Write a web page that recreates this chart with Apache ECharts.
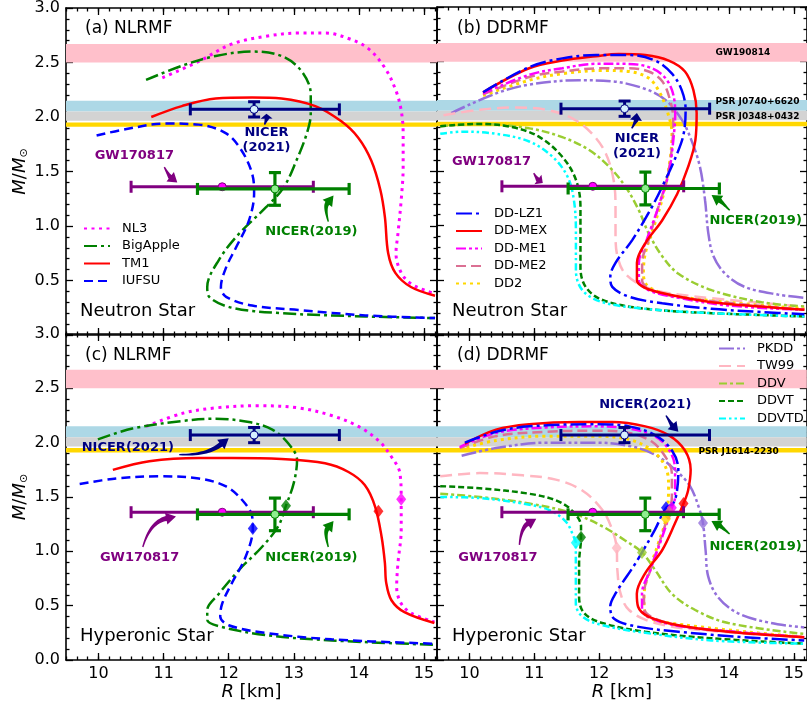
<!DOCTYPE html>
<html><head><meta charset="utf-8">
<script src="https://cdn.jsdelivr.net/npm/echarts@6/dist/echarts.min.js"></script>
<style>html,body{margin:0;padding:0;background:#fff}#c{width:807px;height:709px}</style>
</head><body><div id="c"></div>
<script>
// ================= DATA =================
const X_MAJOR = [10, 11, 12, 13, 14, 15];
const X_MINOR = []; for (let k = 0; k <= 34; k++) X_MINOR.push(9.5 + k / 6);

// (a) NLRMF neutron star  [R km, M/Msun]
const A_NL3 = [[10.98,2.36],[11.54,2.51],[12.05,2.67],[12.57,2.74],[13.07,2.77],[13.49,2.77],[13.84,2.72],[14.14,2.63],[14.40,2.45],[14.57,2.24],[14.65,2.06],[14.68,1.85],[14.68,1.54],[14.65,1.24],[14.60,0.93],[14.57,0.75],[14.65,0.57],[14.80,0.47],[15.01,0.41],[15.17,0.38]];
const A_BIGAPPLE = [[10.73,2.34],[11.28,2.47],[11.80,2.56],[12.36,2.60],[12.81,2.56],[13.12,2.42],[13.26,2.21],[13.26,2.03],[13.20,1.85],[13.04,1.60],[12.84,1.35],[12.57,1.17],[12.16,0.93],[11.85,0.69],[11.67,0.44],[11.70,0.35],[12.05,0.25],[12.81,0.20],[14.10,0.17],[15.17,0.155]];
const A_TM1 = [[10.81,2.00],[11.28,2.10],[11.80,2.17],[12.36,2.18],[12.81,2.17],[13.33,2.10],[13.73,1.96],[13.99,1.81],[14.19,1.60],[14.33,1.33],[14.40,1.08],[14.45,0.75],[14.56,0.57],[14.80,0.44],[15.17,0.36]];
const A_IUFSU = [[9.97,1.83],[10.43,1.89],[11.04,1.94],[11.54,1.93],[11.96,1.85],[12.20,1.69],[12.36,1.48],[12.39,1.30],[12.31,1.05],[12.11,0.80],[11.96,0.62],[11.88,0.44],[11.96,0.35],[12.36,0.27],[13.07,0.23],[14.10,0.18],[15.17,0.155]];

// (b) DDRMF neutron star
const B_DDLZ1 = [[10.21,2.22],[10.92,2.45],[11.43,2.53],[11.95,2.56],[12.46,2.56],[12.86,2.51],[13.12,2.39],[13.27,2.24],[13.33,2.06],[13.30,1.84],[13.20,1.66],[13.02,1.42],[12.81,1.17],[12.51,0.87],[12.25,0.66],[12.17,0.53],[12.20,0.44],[12.46,0.35],[12.97,0.29],[13.73,0.24],[14.50,0.21],[15.16,0.19]];
const B_DDMEX = [[10.21,2.22],[10.92,2.44],[11.43,2.51],[11.95,2.55],[12.30,2.57],[12.71,2.56],[13.07,2.51],[13.32,2.41],[13.45,2.24],[13.50,2.03],[13.48,1.78],[13.37,1.54],[13.20,1.29],[12.97,1.05],[12.71,0.84],[12.58,0.66],[12.58,0.50],[12.71,0.43],[13.07,0.37],[13.73,0.30],[14.50,0.26],[15.16,0.23]];
const B_DDME1 = [[10.21,2.21],[10.92,2.38],[11.43,2.44],[11.95,2.48],[12.35,2.48],[12.71,2.46],[12.97,2.38],[13.12,2.24],[13.17,2.03],[13.14,1.78],[13.07,1.48],[12.91,1.17],[12.73,0.87],[12.61,0.66],[12.61,0.50],[12.76,0.41],[13.22,0.34],[13.99,0.27],[15.16,0.23]];
const B_DDME2 = [[10.21,2.20],[10.92,2.36],[11.43,2.41],[12.05,2.44],[12.46,2.44],[12.76,2.41],[12.97,2.32],[13.09,2.15],[13.14,1.97],[13.12,1.72],[13.04,1.42],[12.91,1.17],[12.76,0.87],[12.66,0.66],[12.66,0.50],[12.81,0.41],[13.30,0.34],[15.16,0.23]];
const B_DD2 = [[10.21,2.19],[10.92,2.33],[11.43,2.39],[12.05,2.42],[12.46,2.41],[12.76,2.35],[12.91,2.24],[13.04,2.06],[13.12,1.84],[13.09,1.60],[12.99,1.29],[12.84,0.99],[12.71,0.75],[12.68,0.56],[12.76,0.44],[13.22,0.35],[15.16,0.24]];
const B_PKDD = [[9.72,2.03],[10.41,2.21],[10.92,2.29],[11.69,2.33],[12.20,2.32],[12.71,2.25],[13.02,2.15],[13.27,1.97],[13.42,1.78],[13.55,1.54],[13.63,1.23],[13.68,0.93],[13.76,0.72],[13.94,0.56],[14.24,0.44],[14.75,0.37],[15.16,0.34]];
const B_TW99 = [[9.60,2.01],[10.16,2.06],[10.67,2.08],[11.18,2.06],[11.59,1.98],[11.89,1.84],[12.10,1.66],[12.22,1.42],[12.25,1.17],[12.25,0.93],[12.28,0.72],[12.40,0.56],[12.71,0.44],[13.22,0.37],[15.16,0.26]];
const B_DDV = [[9.55,1.91],[10.16,1.93],[10.92,1.89],[11.43,1.81],[11.85,1.69],[12.15,1.54],[12.40,1.36],[12.61,1.14],[12.76,0.93],[12.97,0.72],[13.22,0.56],[13.73,0.41],[14.50,0.30],[15.16,0.26]];
const B_DDVT = [[9.55,1.91],[10.16,1.93],[10.67,1.90],[11.08,1.81],[11.43,1.63],[11.64,1.42],[11.71,1.17],[11.71,0.93],[11.71,0.62],[11.79,0.44],[12.05,0.32],[12.71,0.24],[13.73,0.20],[15.16,0.17]];
const B_DDVTD = [[9.55,1.84],[9.90,1.86],[10.41,1.84],[10.92,1.77],[11.28,1.63],[11.51,1.45],[11.61,1.23],[11.64,0.93],[11.64,0.59],[11.74,0.41],[12.05,0.30],[12.71,0.24],[13.73,0.20],[15.16,0.17]];

// (c) NLRMF hyperonic star
const C_NL3 = [[10.73,2.15],[11.29,2.27],[11.80,2.32],[12.46,2.34],[13.07,2.32],[13.58,2.25],[13.99,2.15],[14.30,2.02],[14.50,1.87],[14.63,1.72],[14.65,1.48],[14.65,1.20],[14.60,0.89],[14.58,0.67],[14.65,0.52],[14.81,0.43],[15.16,0.35]];
const C_BIGAPPLE = [[9.99,2.03],[10.52,2.13],[11.29,2.20],[11.80,2.22],[12.31,2.19],[12.67,2.12],[12.92,1.99],[13.05,1.84],[13.00,1.63],[12.88,1.42],[12.76,1.23],[12.51,1.04],[12.16,0.83],[11.85,0.61],[11.67,0.46],[11.67,0.37],[11.85,0.31],[12.56,0.23],[13.58,0.18],[15.16,0.14]];
const C_TM1 = [[10.22,1.75],[10.78,1.83],[11.54,1.86],[12.05,1.86],[12.81,1.85],[13.48,1.81],[13.84,1.73],[14.09,1.61],[14.25,1.41],[14.35,1.13],[14.40,0.89],[14.42,0.71],[14.50,0.55],[14.70,0.44],[15.16,0.34]];
const C_IUFSU = [[9.71,1.62],[10.27,1.67],[10.93,1.69],[11.54,1.67],[11.95,1.60],[12.21,1.47],[12.36,1.32],[12.37,1.21],[12.26,0.95],[12.05,0.71],[11.90,0.52],[11.87,0.40],[12.00,0.32],[12.56,0.25],[13.58,0.19],[15.16,0.15]];
const C_ONSET_NAMES = ['NL3', 'TM1', 'BigApple', 'IUFSU'];
const C_ONSET = [[14.65,1.48],[14.30,1.37],[12.88,1.42],[12.37,1.21]];

// (d) DDRMF hyperonic star
const D_DDLZ1 = [[9.93,2.00],[10.41,2.10],[10.92,2.15],[11.95,2.17],[12.46,2.15],[12.86,2.07],[13.12,1.93],[13.22,1.75],[13.20,1.56],[13.14,1.44],[13.03,1.40],[12.86,1.20],[12.56,0.89],[12.25,0.61],[12.17,0.49],[12.23,0.38],[12.56,0.31],[13.22,0.26],[14.24,0.21],[15.16,0.18]];
const D_DDMEX = [[9.93,1.99],[10.41,2.12],[10.92,2.17],[11.69,2.19],[12.20,2.19],[12.71,2.15],[13.07,2.07],[13.32,1.93],[13.41,1.75],[13.37,1.56],[13.30,1.44],[13.17,1.26],[12.97,1.01],[12.71,0.80],[12.58,0.61],[12.60,0.49],[12.76,0.40],[13.22,0.32],[13.99,0.26],[15.16,0.21]];
const D_DDME1 = [[9.85,1.96],[10.41,2.09],[11.18,2.14],[11.95,2.15],[12.46,2.13],[12.86,2.06],[13.09,1.92],[13.17,1.75],[13.17,1.50],[13.12,1.40],[12.97,1.13],[12.79,0.83],[12.66,0.61],[12.66,0.46],[12.86,0.37],[13.37,0.30],[15.16,0.21]];
const D_DDME2 = [[9.85,1.95],[10.41,2.06],[11.18,2.10],[11.95,2.11],[12.46,2.09],[12.81,2.01],[13.02,1.87],[13.12,1.72],[13.12,1.50],[13.07,1.35],[12.94,1.10],[12.79,0.83],[12.69,0.61],[12.70,0.46],[12.91,0.37],[13.40,0.30],[15.16,0.21]];
const D_DD2 = [[9.85,1.94],[10.41,2.02],[11.18,2.06],[11.95,2.06],[12.46,2.03],[12.81,1.93],[13.02,1.78],[13.07,1.60],[13.03,1.30],[12.91,1.07],[12.76,0.80],[12.69,0.58],[12.71,0.43],[12.97,0.35],[15.16,0.21]];
const D_PKDD = [[9.88,1.88],[10.41,1.95],[11.18,2.00],[11.95,2.00],[12.46,1.97],[12.86,1.89],[13.17,1.75],[13.40,1.60],[13.55,1.38],[13.60,1.26],[13.64,1.01],[13.68,0.77],[13.83,0.58],[14.14,0.43],[14.65,0.34],[15.16,0.30]];
const D_TW99 = [[9.55,1.69],[10.16,1.72],[10.82,1.70],[11.33,1.66],[11.74,1.56],[12.05,1.38],[12.20,1.20],[12.27,1.03],[12.28,0.83],[12.33,0.61],[12.46,0.46],[12.81,0.35],[13.48,0.28],[15.16,0.21]];
const D_DDV = [[9.55,1.53],[10.16,1.50],[10.92,1.44],[11.59,1.35],[12.05,1.23],[12.40,1.10],[12.66,0.99],[12.86,0.83],[13.12,0.61],[13.48,0.46],[13.99,0.34],[15.16,0.24]];
const D_DDVT = [[9.55,1.60],[10.16,1.58],[10.92,1.53],[11.33,1.47],[11.59,1.37],[11.72,1.23],[11.72,1.13],[11.69,0.89],[11.69,0.58],[11.77,0.43],[12.05,0.34],[12.71,0.26],[13.73,0.20],[15.16,0.15]];
const D_DDVTD = [[9.55,1.50],[10.16,1.49],[10.82,1.44],[11.23,1.38],[11.49,1.27],[11.61,1.13],[11.64,1.08],[11.64,0.83],[11.64,0.52],[11.74,0.40],[12.05,0.32],[12.71,0.25],[13.73,0.18],[15.16,0.15]];
const D_ONSET_NAMES = ['DD-LZ1','DD-ME1','DD-MEX','DD-ME2','DD2','PKDD','TW99','DDV','DDVT','DDVTD'];
const D_ONSET = [[13.03,1.40],[13.12,1.40],[13.30,1.44],[13.08,1.36],[13.03,1.30],[13.60,1.26],[12.27,1.03],[12.66,0.99],[11.72,1.13],[11.64,1.08]];

// observational constraints
const BANDS = [[2.50,2.67],[2.05,2.15],[1.965,2.05],[1.91,1.95]];          // GW190814, J0740, J0348, J1614
const ERR_NICER2021 = [12.39, 2.07, 11.41, 13.70, 2.00, 2.14];           // R, M, Rlo, Rhi, Mlo, Mhi
const ERR_NICER2019 = [12.71, 1.34, 11.52, 13.85, 1.19, 1.49];
const ERR_GW170817 = [11.90, 1.36, 10.50, 13.30];

// annotation texts [R, M, text, colorKey]
const TEXT_A = [[12.58,1.785,'NICER\n(2021)','n'],[10.55,1.65,'GW170817','p'],[13.27,0.95,'NICER(2019)','g']];
const TEXT_B = [[12.58,1.73,'NICER\n(2021)','n'],[10.34,1.59,'GW170817','p'],[14.41,1.05,'NICER(2019)','g']];
const TEXT_C = [[10.45,1.95,'NICER(2021)','n'],[10.63,0.945,'GW170817','p'],[13.27,0.945,'NICER(2019)','g']];
const TEXT_D = [[12.71,2.35,'NICER(2021)','n'],[10.44,0.945,'GW170817','p'],[14.41,1.04,'NICER(2019)','g']];
// arrows [R1, M1, R2, M2, curvature, colorKey]
const ARROW_A = [[12.55,1.93,12.58,2.03,0.1,'n'],[11.01,1.54,11.21,1.40,0.1,'p'],[13.53,1.04,13.61,1.28,-0.25,'g']];
const ARROW_B = [[12.50,1.89,12.58,2.03,0.1,'n'],[10.99,1.48,11.13,1.39,0.1,'p'],[14.01,1.14,13.73,1.28,0.05,'g']];
const ARROW_C = [[11.24,1.89,12.0,2.04,0.18,'n'],[10.68,1.04,11.19,1.32,-0.3,'p'],[13.53,1.04,13.61,1.28,-0.25,'g']];
const ARROW_D = [[13.03,2.25,13.22,2.10,0.05,'n'],[10.77,1.06,11.03,1.30,-0.25,'p'],[14.01,1.16,13.73,1.28,0.05,'g']];
// band labels [R, M, text]
const BANDLABEL_B = [[13.79,2.585,'GW190814'],[13.79,2.13,'PSR J0740+6620'],[13.79,2.00,'PSR J0348+0432']];
const BANDLABEL_D = [[13.53,1.915,'PSR J1614-2230']];

// ================= STYLE =================
const FONT = '"DejaVu Sans", Verdana, sans-serif';
const BAND_COLORS = ['#ffc0cb', '#add8e6', '#d3d3d3', '#ffd700'];
const ANN_COLORS = {n: '#000080', p: '#800080', g: '#008000'};
const STYLE = {
  'NL3':      {color: '#ff00ff', type: [3, 4.5], width: 3},
  'BigApple': {color: '#008000', type: [13, 4, 3, 4], width: 2.5},
  'TM1':      {color: '#ff0000', type: 'solid', width: 2.5},
  'IUFSU':    {color: '#0000ff', type: [9, 5], width: 2.5},
  'DD-LZ1':   {color: '#0000ff', type: [16, 4, 3, 4], width: 2.5},
  'DD-MEX':   {color: '#ff0000', type: 'solid', width: 2.5},
  'DD-ME1':   {color: '#ff00ff', type: [10, 3, 3, 3, 3, 3], width: 2.5},
  'DD-ME2':   {color: '#db7093', type: [10, 5], width: 2.5},
  'DD2':      {color: '#ffd700', type: [3, 4], width: 3},
  'PKDD':     {color: '#9370db', type: [15, 3, 3, 3, 3, 3], width: 2.5},
  'TW99':     {color: '#ffb6c1', type: [12, 6], width: 2.5},
  'DDV':      {color: '#9acd32', type: [8, 3, 3, 3], width: 2.5},
  'DDVT':     {color: '#008000', type: [6, 3], width: 2.5},
  'DDVTD':    {color: '#00ffff', type: [7, 3, 2.5, 3, 2.5, 3], width: 2.5}
};

const PANELS = [
  {curves: [['NL3',A_NL3],['BigApple',A_BIGAPPLE],['TM1',A_TM1],['IUFSU',A_IUFSU]], texts: TEXT_A, arrows: ARROW_A, labels: []},
  {curves: [['PKDD',B_PKDD],['TW99',B_TW99],['DDV',B_DDV],['DDVT',B_DDVT],['DDVTD',B_DDVTD],['DD2',B_DD2],['DD-ME2',B_DDME2],['DD-ME1',B_DDME1],['DD-MEX',B_DDMEX],['DD-LZ1',B_DDLZ1]], texts: TEXT_B, arrows: ARROW_B, labels: BANDLABEL_B},
  {curves: [['NL3',C_NL3],['BigApple',C_BIGAPPLE],['TM1',C_TM1],['IUFSU',C_IUFSU]], texts: TEXT_C, arrows: ARROW_C, labels: [], onsetNames: C_ONSET_NAMES, onset: C_ONSET},
  {curves: [['PKDD',D_PKDD],['TW99',D_TW99],['DDV',D_DDV],['DDVT',D_DDVT],['DDVTD',D_DDVTD],['DD2',D_DD2],['DD-ME2',D_DDME2],['DD-ME1',D_DDME1],['DD-MEX',D_DDMEX],['DD-LZ1',D_DDLZ1]], texts: TEXT_D, arrows: ARROW_D, labels: BANDLABEL_D, onsetNames: D_ONSET_NAMES, onset: D_ONSET}
];

const GRIDS = [
  {left: 66, top: 7, width: 371, height: 328},
  {left: 437, top: 7, width: 371, height: 328},
  {left: 66, top: 334, width: 371, height: 326},
  {left: 437, top: 334, width: 371, height: 326}
];

// ================= AXES =================
const xAxes = [], yAxes = [];
const tickLine = {color: '#000', width: 1.3};
GRIDS.forEach((g, gi) => {
  const bottomRow = gi >= 2, leftCol = gi % 2 === 0;
  const base = {type: 'value', gridIndex: gi, min: 9.5, max: 15.2, splitLine: {show: false}};
  xAxes.push(Object.assign({}, base, {
    position: 'bottom',
    axisLine: {show: true, onZero: false, lineStyle: {color: '#000', width: 1.6}},
    axisTick: {show: true, inside: true, length: 7, customValues: X_MAJOR, lineStyle: tickLine},
    axisLabel: {show: bottomRow, customValues: X_MAJOR, color: '#000', fontSize: 16, fontFamily: FONT, margin: 6},
    name: bottomRow ? '{i|R} [km]' : '', nameLocation: 'middle', nameGap: 22,
    nameTextStyle: {color: '#000', fontSize: 18, fontFamily: FONT, rich: {i: {fontStyle: 'italic', fontSize: 18, fontFamily: FONT, color: '#000'}}}
  }));
  xAxes.push(Object.assign({}, base, {
    position: 'bottom', axisLine: {show: false, onZero: false},
    axisTick: {show: true, inside: true, length: 3.5, customValues: X_MINOR, lineStyle: tickLine},
    axisLabel: {show: false}
  }));
  xAxes.push(Object.assign({}, base, {
    position: 'top', axisLine: {show: true, onZero: false, lineStyle: {color: '#000', width: 1.6}},
    axisTick: {show: true, inside: true, length: 7, customValues: X_MAJOR, lineStyle: tickLine},
    axisLabel: {show: false}
  }));
  xAxes.push(Object.assign({}, base, {
    position: 'top', axisLine: {show: false, onZero: false},
    axisTick: {show: true, inside: true, length: 3.5, customValues: X_MINOR, lineStyle: tickLine},
    axisLabel: {show: false}
  }));
  const ybase = {type: 'value', gridIndex: gi, min: 0, max: 3, interval: 0.5, splitLine: {show: false},
    axisLine: {show: true, onZero: false, lineStyle: {color: '#000', width: 1.6}},
    axisTick: {show: true, inside: true, length: 7, lineStyle: tickLine},
    minorTick: {show: true, splitNumber: 5, length: 3.5, lineStyle: tickLine}};
  yAxes.push(Object.assign({}, ybase, {
    position: 'left',
    axisLabel: {show: leftCol, showMinLabel: bottomRow, color: '#000', fontSize: 16, fontFamily: FONT, margin: 6,
      formatter: v => v.toFixed(1)},
    name: leftCol ? '{i|M}/{i|M}{s|⊙}' : '', nameLocation: 'middle', nameGap: 36,
    nameTextStyle: {color: '#000', fontSize: 18, fontFamily: FONT,
      rich: {i: {fontStyle: 'italic', fontSize: 18, fontFamily: FONT, color: '#000'},
             s: {fontSize: 11, fontFamily: FONT, color: '#000', padding: [9, 0, 0, 0]}}}
  }));
  yAxes.push(Object.assign({}, ybase, {position: 'right', axisLabel: {show: false}}));
});

// ================= SERIES =================
const series = [];
function bezierPt(p0, c, p1, t) {
  return [(1-t)*(1-t)*p0[0] + 2*(1-t)*t*c[0] + t*t*p1[0], (1-t)*(1-t)*p0[1] + 2*(1-t)*t*c[1] + t*t*p1[1]];
}
PANELS.forEach((P, gi) => {
  const xi = gi * 4, yi = gi * 2;
  // bands
  series.push({
    type: 'custom', xAxisIndex: xi, yAxisIndex: yi, z: 1, silent: true,
    data: BANDS.map(b => [9.5, b[0], b[1]]),
    renderItem: (params, api) => {
      const lo = api.value(1), hi = api.value(2);
      const t = api.coord([9.5, hi]), b = api.coord([9.5, lo]);
      const cs = params.coordSys;
      return {type: 'rect', shape: {x: cs.x, y: t[1], width: cs.width, height: b[1] - t[1]},
              style: {fill: BAND_COLORS[params.dataIndex]}};
    }
  });
  // curves
  P.curves.forEach(([name, data]) => {
    const s = STYLE[name];
    series.push({
      type: 'line', name: name, xAxisIndex: xi, yAxisIndex: yi, data: data, z: 3,
      showSymbol: false, symbol: 'none', smooth: 0.35, silent: true,
      lineStyle: {color: s.color, width: s.width, type: s.type, cap: 'butt'},
      itemStyle: {color: s.color}
    });
  });
  // onset diamonds
  if (P.onset) {
    series.push({
      type: 'scatter', xAxisIndex: xi, yAxisIndex: yi, z: 5, symbol: 'diamond', symbolSize: [10, 13], silent: true,
      data: P.onset.map((p, i) => ({value: p, itemStyle: {color: STYLE[P.onsetNames[i]].color}}))
    });
  }
  // error bars
  const ERRS = [ERR_GW170817, ERR_NICER2019, ERR_NICER2021];
  const ERRSTY = [
    {c: '#800080', fill: '#ff00ff', w: 3},
    {c: '#008000', fill: '#90ee90', w: 3.2},
    {c: '#000080', fill: '#d6efff', w: 3}
  ];
  series.push({
    type: 'custom', xAxisIndex: xi, yAxisIndex: yi, z: 6, silent: true,
    data: ERRS.map(e => [e[0], e[1]]),
    renderItem: (params, api) => {
      const e = ERRS[params.dataIndex], st = ERRSTY[params.dataIndex];
      const p = api.coord([e[0], e[1]]), pl = api.coord([e[2], e[1]]), ph = api.coord([e[3], e[1]]);
      const cap = 6, ls = {stroke: st.c, lineWidth: st.w};
      const ch = [
        {type: 'line', shape: {x1: pl[0], y1: pl[1], x2: ph[0], y2: ph[1]}, style: ls},
        {type: 'line', shape: {x1: pl[0], y1: pl[1]-cap, x2: pl[0], y2: pl[1]+cap}, style: ls},
        {type: 'line', shape: {x1: ph[0], y1: ph[1]-cap, x2: ph[0], y2: ph[1]+cap}, style: ls}
      ];
      if (e.length > 4) {
        const vl = api.coord([e[0], e[4]]), vh = api.coord([e[0], e[5]]);
        ch.push({type: 'line', shape: {x1: vl[0], y1: vl[1], x2: vh[0], y2: vh[1]}, style: ls});
        ch.push({type: 'line', shape: {x1: vl[0]-cap, y1: vl[1], x2: vl[0]+cap, y2: vl[1]}, style: ls});
        ch.push({type: 'line', shape: {x1: vh[0]-cap, y1: vh[1], x2: vh[0]+cap, y2: vh[1]}, style: ls});
      }
      ch.push({type: 'circle', shape: {cx: p[0], cy: p[1], r: 4}, style: {fill: st.fill, stroke: st.c, lineWidth: 1}});
      return {type: 'group', children: ch};
    }
  });
  // arrows
  series.push({
    type: 'custom', xAxisIndex: xi, yAxisIndex: yi, z: 7, silent: true,
    data: P.arrows.map(a => [a[0], a[1]]),
    renderItem: (params, api) => {
      const a = P.arrows[params.dataIndex];
      const p1 = api.coord([a[0], a[1]]), p2 = api.coord([a[2], a[3]]), curv = a[4];
      const color = ANN_COLORS[a[5]];
      const dx = p2[0]-p1[0], dy = p2[1]-p1[1], len = Math.hypot(dx, dy);
      const c = [(p1[0]+p2[0])/2 - dy*curv, (p1[1]+p2[1])/2 + dx*curv];
      let ux = p2[0]-c[0], uy = p2[1]-c[1]; const ul = Math.hypot(ux, uy) || 1; ux /= ul; uy /= ul;
      const hl = Math.min(10, len*0.45), hw = 6;
      const b = [p2[0]-ux*hl, p2[1]-uy*hl];
      const L = [], R = [], N = 16;
      for (let i = 0; i <= N; i++) {
        const t = i / N, q = bezierPt(p1, c, b, t);
        const tx = 2*(1-t)*(c[0]-p1[0]) + 2*t*(b[0]-c[0]), ty = 2*(1-t)*(c[1]-p1[1]) + 2*t*(b[1]-c[1]);
        const tl = Math.hypot(tx, ty) || 1, nx = -ty/tl, ny = tx/tl, w = 0.7 + 1.8*t;
        L.push([q[0]+nx*w, q[1]+ny*w]); R.push([q[0]-nx*w, q[1]-ny*w]);
      }
      const pts = L.concat([[b[0]-uy*hw, b[1]+ux*hw], [p2[0], p2[1]], [b[0]+uy*hw, b[1]-ux*hw]], R.reverse());
      return {type: 'polygon', shape: {points: pts}, style: {fill: color}};
    }
  });
  // annotation texts
  series.push({
    type: 'custom', xAxisIndex: xi, yAxisIndex: yi, z: 8, silent: true,
    data: P.texts.map(t => [t[0], t[1]]),
    renderItem: (params, api) => {
      const t = P.texts[params.dataIndex], p = api.coord([t[0], t[1]]);
      return {type: 'text', x: p[0], y: p[1], style: {text: t[2], fill: ANN_COLORS[t[3]],
        font: 'bold 13px ' + FONT, align: 'center', verticalAlign: 'middle', lineHeight: 15}};
    }
  });
  if (P.labels.length) {
    series.push({
      type: 'custom', xAxisIndex: xi, yAxisIndex: yi, z: 8, silent: true, clip: false,
      data: P.labels.map(t => [t[0], t[1]]),
      renderItem: (params, api) => {
        const t = P.labels[params.dataIndex], p = api.coord([t[0], t[1]]);
        return {type: 'text', x: p[0], y: p[1], style: {text: t[2], fill: '#000',
          font: 'bold 9px ' + FONT, align: 'left', verticalAlign: 'middle'}};
      }
    });
  }
});

// ================= TITLES & LEGENDS =================
const tStyle = {color: '#000', fontSize: 17, fontWeight: 'normal', fontFamily: FONT};
const sStyle = {color: '#000', fontSize: 18, fontWeight: 'normal', fontFamily: FONT};
const titles = [
  {text: '(a) NLRMF', left: 85, top: 20, textStyle: tStyle, padding: 0},
  {text: '(b) DDRMF', left: 457, top: 20, textStyle: tStyle, padding: 0},
  {text: '(c) NLRMF', left: 85, top: 347, textStyle: tStyle, padding: 0},
  {text: '(d) DDRMF', left: 457, top: 347, textStyle: tStyle, padding: 0},
  {text: 'Neutron Star', left: 80, top: 302, textStyle: sStyle, padding: 0},
  {text: 'Neutron Star', left: 452, top: 302, textStyle: sStyle, padding: 0},
  {text: 'Hyperonic Star', left: 80, top: 627, textStyle: sStyle, padding: 0},
  {text: 'Hyperonic Star', left: 452, top: 627, textStyle: sStyle, padding: 0}
];
function legend(names, left, top) {
  return {data: names, left: left, top: top, orient: 'vertical', itemWidth: 26, itemHeight: 14, itemGap: 4.5,
    padding: 0, selectedMode: false,
    itemStyle: {opacity: 0, borderWidth: 0},
    textStyle: {color: '#000', fontSize: 13, fontFamily: FONT, padding: [0, 0, 0, 7]}};
}
const legends = [
  legend(['NL3', 'BigApple', 'TM1', 'IUFSU'], 83, 222),
  legend(['DD-LZ1', 'DD-MEX', 'DD-ME1', 'DD-ME2', 'DD2'], 455, 207),
  legend(['PKDD', 'TW99', 'DDV', 'DDVT', 'DDVTD'], 718, 342)
];

const chart = echarts.init(document.getElementById('c'), null, {renderer: 'canvas'});
chart.setOption({
  animation: false,
  backgroundColor: '#fff',
  title: titles,
  legend: legends,
  grid: GRIDS,
  xAxis: xAxes,
  yAxis: yAxes,
  series: series
});
</script></body></html>
